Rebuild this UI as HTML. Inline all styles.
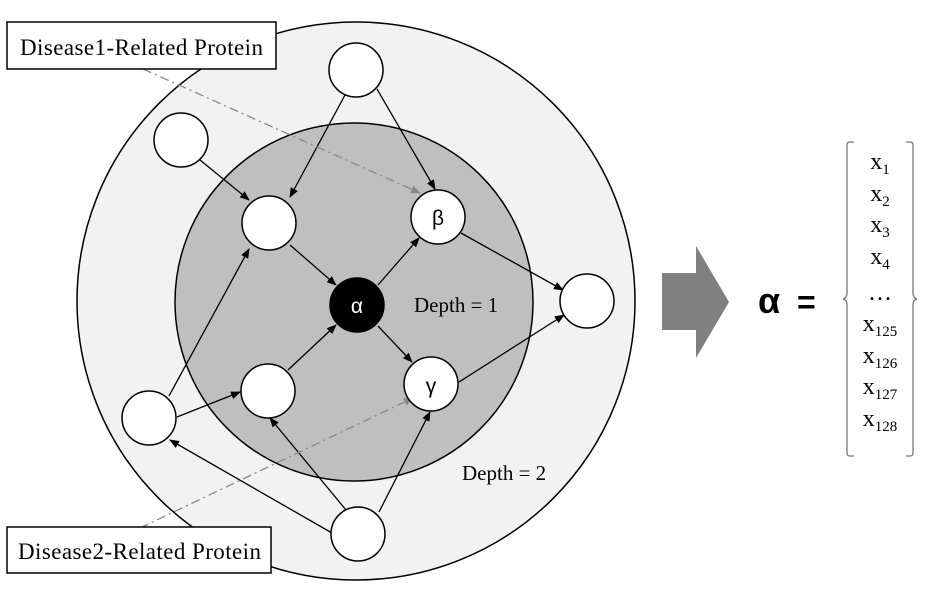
<!DOCTYPE html>
<html><head><meta charset="utf-8"><style>
html,body{margin:0;padding:0;background:#fff;width:939px;height:599px;overflow:hidden}
svg{display:block;font-family:"Liberation Serif",serif}
</style></head><body>
<svg width="939" height="599" viewBox="0 0 939 599">
<defs>
<marker id="a" markerWidth="10" markerHeight="8" refX="9" refY="4" orient="auto" markerUnits="userSpaceOnUse"><path d="M0,0 L10,4 L0,8 z" fill="#000"/></marker>
<marker id="g" markerWidth="10" markerHeight="8" refX="9" refY="4" orient="auto" markerUnits="userSpaceOnUse"><path d="M0,0 L10,4 L0,8 z" fill="#888"/></marker>
</defs>
<circle cx="356" cy="301" r="279" fill="#f2f2f2" stroke="#000" stroke-width="1.5"/>
<circle cx="354" cy="302" r="179" fill="#bfbfbf" stroke="#000" stroke-width="1.5"/>
<g stroke="#000" stroke-width="1.3" fill="none" marker-end="url(#a)">
<line x1="200" y1="160" x2="249" y2="200"/>
<line x1="345" y1="95" x2="290" y2="197"/>
<line x1="377" y1="89" x2="435" y2="189"/>
<line x1="290" y1="245" x2="336" y2="285"/>
<line x1="378" y1="285" x2="419" y2="238"/>
<line x1="378" y1="326" x2="412" y2="362"/>
<line x1="461" y1="233" x2="563" y2="290"/>
<line x1="459" y1="382" x2="564" y2="315"/>
<line x1="288" y1="370" x2="336" y2="325"/>
<line x1="169" y1="396" x2="249" y2="249"/>
<line x1="177" y1="417" x2="240" y2="392"/>
<line x1="332" y1="533" x2="170" y2="440"/>
<line x1="346" y1="510" x2="270" y2="418"/>
<line x1="379" y1="512" x2="430" y2="412"/>
</g>
<g stroke="#888" stroke-width="1.3" fill="none" stroke-dasharray="9,4,2,4">
<line x1="143" y1="69" x2="420" y2="193" marker-end="url(#g)"/>
<line x1="140" y1="528" x2="413" y2="398" marker-end="url(#g)"/>
</g>
<g fill="#fff" stroke="#000" stroke-width="1.5">
<circle cx="356" cy="70" r="27"/>
<circle cx="181" cy="140" r="27"/>
<circle cx="269" cy="223" r="27"/>
<circle cx="438" cy="217" r="27"/>
<circle cx="587" cy="301" r="27"/>
<circle cx="268" cy="391" r="27"/>
<circle cx="431" cy="384" r="27"/>
<circle cx="149" cy="418" r="27"/>
<circle cx="358" cy="534" r="27"/>
<circle cx="357" cy="305" r="27" fill="#000"/>
</g>
<g font-family="Liberation Sans,sans-serif" font-size="21" text-anchor="middle">
<text x="357" y="313" fill="#fff">α</text>
<text x="438" y="225">β</text>
<text x="431" y="393">γ</text>
</g>
<g font-size="21">
<text x="414" y="312">Depth = 1</text>
<text x="462" y="480">Depth = 2</text>
</g>
<rect x="7" y="22" width="269" height="47" fill="#fff" stroke="#000" stroke-width="1.5"/>
<text x="20" y="55" font-size="23" textLength="243">Disease1-Related Protein</text>
<rect x="7" y="527" width="264" height="46" fill="#fff" stroke="#000" stroke-width="1.5"/>
<text x="18" y="559" font-size="23" textLength="243">Disease2-Related Protein</text>
<polygon points="662,273 696,273 696,246 729,302 696,358 696,330 662,330" fill="#808080"/>
<text x="758" y="313" font-family="Liberation Sans,sans-serif" font-weight="bold" font-size="36">α</text>
<text x="797" y="313" font-family="Liberation Sans,sans-serif" font-weight="bold" font-size="32">=</text>
<g fill="none" stroke="#777" stroke-width="1.3">
<path d="M854,142 h-4 q-3,0 -3,3 v148 q0,5 -4,6 q4,1 4,6 v148 q0,3 3,3 h4"/>
<path d="M906,142 h4 q3,0 3,3 v148 q0,5 4,6 q-4,1 -4,6 v148 q0,3 -3,3 h-4"/>
</g>
<g font-size="24" text-anchor="middle">
<text x="880" y="169">x<tspan font-size="15" dy="5">1</tspan></text>
<text x="880" y="201">x<tspan font-size="15" dy="5">2</tspan></text>
<text x="880" y="232">x<tspan font-size="15" dy="5">3</tspan></text>
<text x="880" y="264">x<tspan font-size="15" dy="5">4</tspan></text>
<text x="880" y="300">…</text>
<text x="880" y="331">x<tspan font-size="15" dy="5">125</tspan></text>
<text x="880" y="363">x<tspan font-size="15" dy="5">126</tspan></text>
<text x="880" y="394">x<tspan font-size="15" dy="5">127</tspan></text>
<text x="880" y="426">x<tspan font-size="15" dy="5">128</tspan></text>
</g>
</svg>
</body></html>
